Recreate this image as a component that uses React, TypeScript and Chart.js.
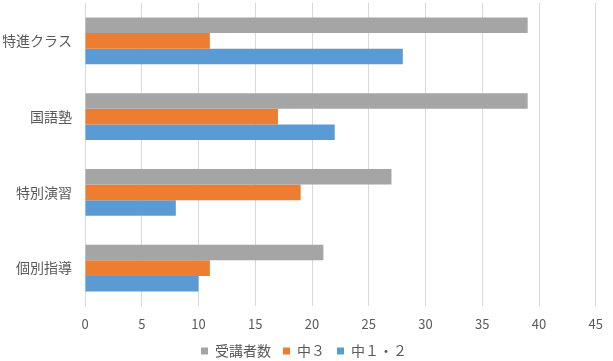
import React, { useEffect, useRef } from "react";
import { Chart, registerables } from "chart.js";

Chart.register(...registerables);

const categories = ["特進クラス", "国語塾", "特別演習", "個別指導"];
const seriesNames = ["受講者数", "中３", "中１・２"];
const totalValues = [39, 39, 27, 21];
const chu3Values = [11, 17, 19, 11];
const chu12Values = [28, 22, 8, 10];
const seriesColors = ["#A5A5A5", "#ED7D31", "#5B9BD5"];

export default function App() {
  const ref = useRef<HTMLCanvasElement | null>(null);
  useEffect(() => {
    document.body.style.margin = "0";
    const ctx = ref.current!;
    const font = "'Noto Sans CJK JP', 'Noto Sans', sans-serif";
    const chart = new Chart(ctx, {
      type: "bar",
      data: {
        labels: categories,
        datasets: [totalValues, chu3Values, chu12Values].map((d, i) => ({
          label: seriesNames[i],
          data: d,
          backgroundColor: seriesColors[i],
          borderWidth: 0,
          categoryPercentage: 0.62,
          barPercentage: 1,
        })),
      },
      options: {
        indexAxis: "y",
        animation: false,
        responsive: false,
        maintainAspectRatio: false,
        layout: { padding: { top: 3, right: 8, left: 3, bottom: -7 } },
        plugins: {
          legend: {
            position: "bottom",
            labels: {
              boxWidth: 7,
              boxHeight: 7,
              color: "#595959",
              font: { family: font, size: 14 },
              padding: 12,
            },
          },
          tooltip: { enabled: false },
        },
        scales: {
          x: {
            min: 0,
            max: 45,
            ticks: {
              stepSize: 5,
              color: "#595959",
              font: { family: font, size: 13 },
              padding: 10,
            },
            grid: { color: "#D9D9D9", drawTicks: false },
            border: { display: false },
            afterFit: (s: any) => {
              s.height = 26;
            },
          },
          y: {
            ticks: {
              color: "#595959",
              font: { family: font, size: 14 },
              padding: 13,
            },
            grid: { display: false, drawTicks: false },
            border: { display: false },
            afterFit: (s: any) => {
              s.width = 82;
              s.paddingTop = 0;
              s.paddingBottom = 0;
            },
          },
        },
      },
    });
    return () => chart.destroy();
  }, []);
  return (
    <div style={{ position: "fixed", left: 0, top: 0, width: 613, height: 361, background: "#fff" }}>
      <canvas ref={ref} width={613} height={361} style={{ width: 613, height: 361 }} />
    </div>
  );
}
